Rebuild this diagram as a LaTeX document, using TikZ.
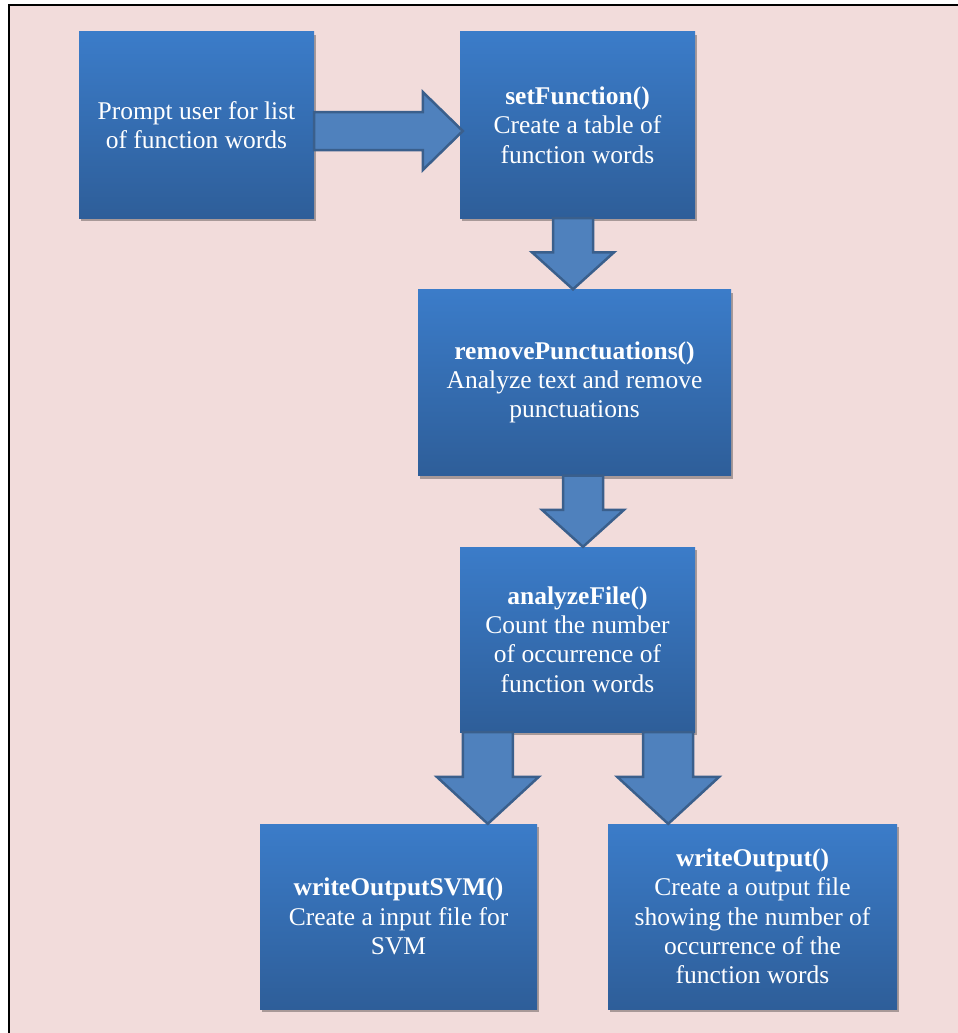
\documentclass[tikz,border=0pt]{standalone}
\usepackage{fontspec}
\setmainfont{Liberation Serif}
\usetikzlibrary{calc,shadows}
\definecolor{bgpink}{HTML}{F2DCDB}
\definecolor{boxtop}{HTML}{3B7CC9}
\definecolor{boxbot}{HTML}{2E5E99}
\definecolor{arrfill}{HTML}{4F81BD}
\definecolor{arrline}{HTML}{3A5F8C}
\tikzset{
  procbox/.style={rectangle, draw=none, inner sep=0pt, top color=boxtop, bottom color=boxbot,
    text=white, align=center, font=\fontsize{25.5}{29.3}\selectfont,
    drop shadow={shadow xshift=2pt, shadow yshift=-3pt, fill=black, opacity=0.3}},
  barrow/.style={fill=arrfill, draw=arrline, line width=2.5pt, line join=miter}
}
\begin{document}
\begin{tikzpicture}[x=1pt,y=-1pt]
\useasboundingbox (0,0) rectangle (958,1033);
\fill[white] (0,0) rectangle (958,1033);
\fill[bgpink] (9,5) rectangle (958,1033);
\draw[line width=2pt] (9,1033) -- (9,5) -- (958,5);

\node[procbox, minimum width=235pt, minimum height=186pt] (b1) at (196.5,125) {Prompt user for list\\of function words};
\node[procbox, minimum width=235pt, minimum height=186pt] (b2) at (577.5,125) {\textbf{setFunction()}\\Create a table of\\function words};
\node[procbox, minimum width=313pt, minimum height=186pt] (b3) at (574.5,382.5) {\textbf{removePunctuations()}\\Analyze text and remove\\punctuations};
\node[procbox, minimum width=235pt, minimum height=185pt] (b4) at (577.5,639.5) {\textbf{analyzeFile()}\\Count the number\\of occurrence of\\function words};
\node[procbox, minimum width=277pt, minimum height=185pt] (b5) at (398.5,916.5) {\textbf{writeOutputSVM()}\\Create a input file for\\SVM};
\node[procbox, minimum width=289pt, minimum height=185pt] (b6) at (752.5,916.5) {\textbf{writeOutput()}\\Create a output file\\showing the number of\\occurrence of the\\function words};

% arrow 1: b1 -> b2
\coordinate (t1) at ($(b2.west)+(3,6)$);
\coordinate (s1) at (b1.east |- t1);
\draw[barrow] ($(s1)+(0,-19)$) -- ($(t1)+(-40,-19)$) -- ($(t1)+(-40,-39)$) -- (t1)
  -- ($(t1)+(-40,39)$) -- ($(t1)+(-40,19)$) -- ($(s1)+(0,19)$) -- cycle;

% arrow 2: b2 -> b3
\coordinate (t2) at ($(b3.north)+(-1.5,0)$);
\coordinate (s2) at (t2 |- b2.south);
\draw[barrow] ($(s2)+(-20,0)$) -- ($(t2)+(-20,-37)$) -- ($(t2)+(-41,-37)$) -- (t2)
  -- ($(t2)+(41,-37)$) -- ($(t2)+(20,-37)$) -- ($(s2)+(20,0)$) -- cycle;

% arrow 3: b3 -> b4
\coordinate (t3) at ($(b4.north)+(5.5,0)$);
\coordinate (s3) at (t3 |- b3.south);
\draw[barrow] ($(s3)+(-20,0)$) -- ($(t3)+(-20,-37)$) -- ($(t3)+(-41,-37)$) -- (t3)
  -- ($(t3)+(41,-37)$) -- ($(t3)+(20,-37)$) -- ($(s3)+(20,0)$) -- cycle;

% arrow 4: b4 -> b5
\coordinate (s4) at ($(b4.south west)+(28,0)$);
\coordinate (t4) at (s4 |- b5.north);
\draw[barrow] ($(s4)+(-25,0)$) -- ($(t4)+(-25,-47)$) -- ($(t4)+(-51,-47)$) -- (t4)
  -- ($(t4)+(51,-47)$) -- ($(t4)+(25,-47)$) -- ($(s4)+(25,0)$) -- cycle;

% arrow 5: b4 -> b6
\coordinate (s5) at ($(b4.south east)+(-27,0)$);
\coordinate (t5) at (s5 |- b6.north);
\draw[barrow] ($(s5)+(-25,0)$) -- ($(t5)+(-25,-47)$) -- ($(t5)+(-51,-47)$) -- (t5)
  -- ($(t5)+(51,-47)$) -- ($(t5)+(25,-47)$) -- ($(s5)+(25,0)$) -- cycle;
\end{tikzpicture}
\end{document}
